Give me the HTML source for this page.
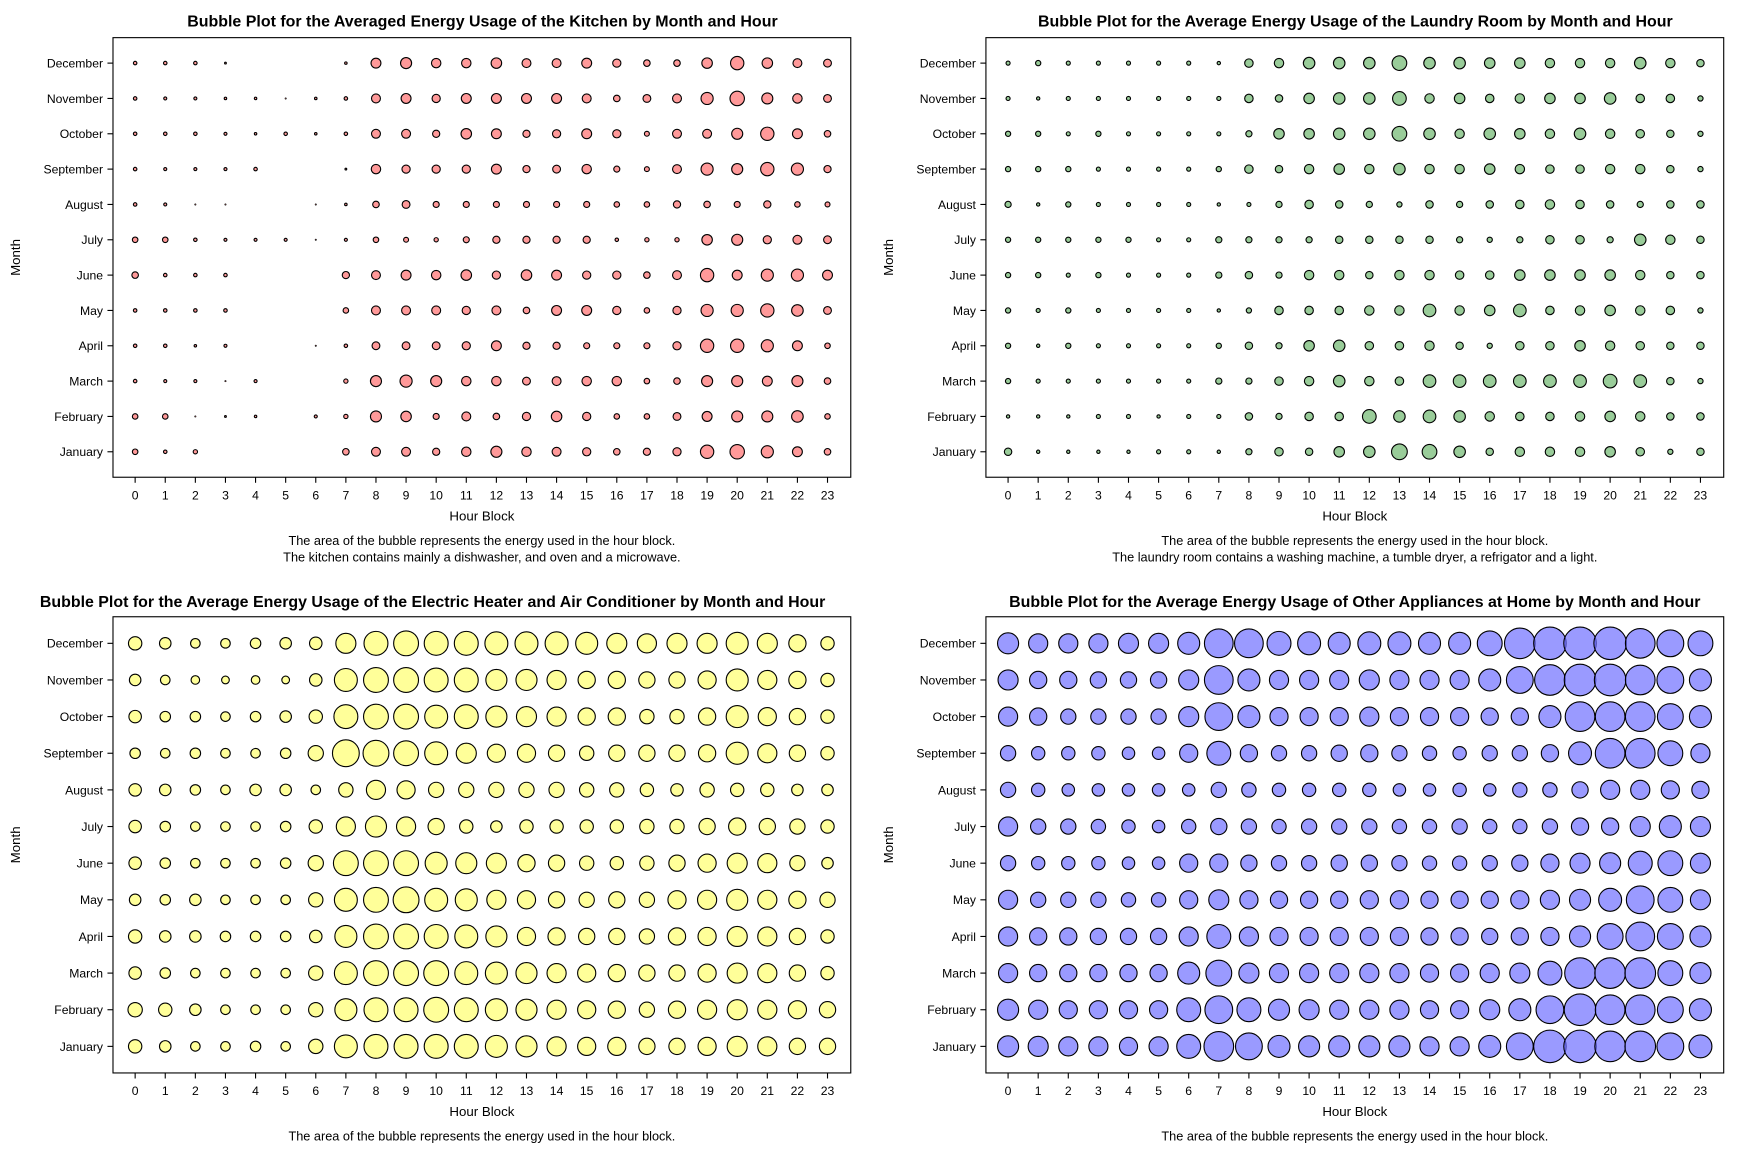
<!DOCTYPE html>
<html><head><meta charset="utf-8"><style>
html,body{margin:0;padding:0;background:#fff;}
svg{display:block;}
text{font-family:"Liberation Sans",Arial,sans-serif;fill:#000;}
</style></head><body>
<svg id="chart" width="1737" height="1156" viewBox="0 0 1568 1044" preserveAspectRatio="none" xmlns="http://www.w3.org/2000/svg"></svg>
<script>
const months = ["December","November","October","September","August","July","June","May","April","March","February","January"];
const hours = [0,1,2,3,4,5,6,7,8,9,10,11,12,13,14,15,16,17,18,19,20,21,22,23];
const kitchenValues = [
[4,4,4,1,0,0,0,2,32,40,29,29,36,26,26,32,22,14,14,36,58,36,26,20],
[4,3,3,2,2,0.4,2,4,26,32,22,32,32,32,32,26,14,20,26,48,68,40,29,20],
[4,4,4,3,2,4,2,4,26,26,17,36,32,17,22,32,22,8,26,26,40,58,32,14],
[4,3,3,3,4,0,0,1,29,22,22,22,32,17,20,29,12,8,26,48,40,58,48,17],
[4,3,0.4,0.4,0,0,0.4,2,14,20,12,12,12,12,12,12,10,10,17,14,12,17,10,8],
[10,10,4,3,3,3,0.2,3,10,8,6,12,17,17,17,17,4,6,6,36,40,22,26,20],
[14,4,4,4,0,0,0,17,26,32,29,36,22,36,32,22,22,14,26,58,32,48,48,32],
[4,4,4,4,0,0,0,10,26,26,26,22,26,14,32,32,22,10,22,48,48,58,44,20],
[4,4,2,3,0,0,0.4,4,20,20,20,22,32,17,17,12,12,12,22,58,58,48,32,10],
[4,3,3,0.4,3,0,0,6,40,48,40,29,29,20,26,29,29,10,14,40,40,32,40,14],
[10,10,0.4,1,2,0,3,6,40,36,12,26,14,22,36,22,10,10,20,32,40,40,44,10],
[10,4,6,0,0,0,0,14,26,26,17,29,40,29,26,22,14,17,22,58,68,48,32,14]];
const laundryValues = [
[6,10,6,6,6,6,6,4,26,32,48,48,48,78,48,48,40,40,32,32,32,48,32,20],
[6,4,6,6,6,6,6,6,26,20,40,48,48,68,32,40,26,32,40,40,48,26,26,10],
[10,10,6,10,6,6,6,6,14,40,40,48,48,78,48,32,48,40,32,48,32,26,20,10],
[10,10,10,6,6,6,6,10,26,20,32,40,32,48,32,32,40,32,26,26,32,32,20,10],
[14,4,10,6,6,6,6,4,6,14,26,20,14,10,20,14,20,26,32,26,20,14,20,20],
[10,10,10,10,10,6,6,14,14,14,14,20,20,20,20,14,10,14,26,26,14,48,32,20],
[10,10,6,10,6,6,6,14,20,14,32,32,20,32,32,26,26,40,40,40,40,32,20,20],
[10,6,10,6,6,6,6,4,10,26,26,26,32,32,58,32,40,58,26,32,40,32,26,10],
[10,4,10,6,6,6,6,10,20,14,40,48,26,26,32,20,10,26,26,40,32,26,20,20],
[10,6,6,6,6,6,6,14,14,26,32,48,32,26,58,58,58,58,58,58,68,58,20,10],
[4,4,4,6,6,4,6,6,20,14,26,26,68,48,58,48,32,26,26,32,40,32,20,20],
[20,4,4,4,4,6,6,4,14,26,20,40,48,90,78,48,20,32,32,32,40,26,10,20]];
const heaterValues = [
[78,58,40,40,48,58,68,176,250,270,250,250,230,230,230,212,176,160,176,176,212,176,130,78],
[58,40,32,26,32,26,68,230,270,270,250,250,194,194,160,130,130,116,116,144,212,160,130,78],
[68,48,48,40,48,58,78,250,270,270,230,250,194,176,160,130,130,90,90,130,212,144,116,78],
[48,40,48,40,40,48,102,314,292,270,230,176,144,144,116,90,116,116,116,130,212,160,116,78],
[68,58,48,40,58,58,40,90,160,144,102,102,102,102,102,90,90,78,68,90,78,78,58,58],
[68,48,40,40,40,48,78,160,194,160,116,78,58,78,78,78,78,90,90,116,130,116,102,78],
[68,48,40,40,40,48,102,270,270,270,212,194,176,130,116,90,78,90,116,144,176,160,102,58],
[58,48,58,40,40,40,90,230,270,292,230,212,160,144,116,102,116,102,144,160,194,160,130,102],
[78,58,58,48,48,48,68,212,270,270,250,230,194,144,130,116,116,102,130,144,176,160,116,78],
[68,48,40,40,40,40,90,230,270,270,270,230,212,194,160,144,130,116,116,144,176,160,116,78],
[90,78,58,40,40,40,90,212,250,250,270,250,212,194,160,144,130,102,130,160,176,160,144,116],
[78,58,40,40,48,40,90,230,250,250,250,250,212,194,160,144,144,116,116,144,176,160,116,116]];
const otherValues = [
[194,160,160,160,176,176,212,360,360,250,230,212,230,230,212,212,270,410,462,462,462,384,314,270],
[176,130,130,116,116,116,176,360,212,160,160,160,176,160,160,160,212,314,410,436,436,384,314,212],
[160,130,102,102,102,102,176,336,212,144,144,144,160,144,144,144,130,130,212,384,384,384,292,212],
[102,78,78,78,68,68,144,250,130,102,102,116,130,102,90,78,102,102,130,230,384,384,270,160],
[102,78,68,68,68,68,68,102,90,78,78,78,78,68,68,78,68,90,90,116,160,160,144,130],
[160,102,102,90,78,68,90,116,102,90,102,102,102,90,90,102,90,90,102,130,130,176,212,176],
[102,78,78,78,68,68,144,144,116,102,102,116,116,102,90,90,102,116,144,176,194,250,270,176],
[160,102,102,102,90,90,144,176,144,130,130,130,144,144,130,130,130,144,160,194,230,336,270,176],
[160,130,130,116,116,116,160,250,160,144,144,144,144,144,130,130,116,130,144,194,292,360,292,194],
[160,130,130,130,130,130,212,292,176,160,160,160,160,160,144,144,160,176,250,410,410,410,270,194],
[194,160,144,144,144,144,250,336,250,194,176,160,160,160,144,144,176,212,336,436,384,384,292,212],
[194,176,160,160,144,160,250,384,314,212,194,194,194,194,160,160,212,314,462,462,410,410,314,230]];

const NS = "http://www.w3.org/2000/svg";
const svg = document.getElementById('chart');
function mk(tag, attrs, parent){ const e=document.createElementNS(NS,tag); for(const k in attrs) e.setAttribute(k,attrs[k]); (parent||svg).appendChild(e); return e; }
function txt(s, attrs, parent){ const e=mk('text',attrs,parent); e.textContent=s; return e; }

const panels = [
 {key:'kitchen', values:kitchenValues, fill:'#ff9999', op:1, k:0.79,
  x0:102,x1:768,y0:34,y1:431, c0:122,c23:747, rTop:57,rBot:408, title:"Bubble Plot for the Averaged Energy Usage of the Kitchen by Month and Hour", tL:169,tR:702, ty:24,
  caps:["The area of the bubble represents the energy used in the hour block.","The kitchen contains mainly a dishwasher, and oven and a microwave."]},
 {key:'laundry', values:laundryValues, fill:'#99cc99', op:1, k:0.75,
  x0:890,x1:1556,y0:34,y1:431, c0:910,c23:1535, rTop:57,rBot:408, title:"Bubble Plot for the Average Energy Usage of the Laundry Room by Month and Hour", tL:937,tR:1510, ty:24,
  caps:["The area of the bubble represents the energy used in the hour block.","The laundry room contains a washing machine, a tumble dryer, a refrigator and a light."]},
 {key:'heater', values:heaterValues, fill:'#ffff99', op:1, k:0.683,
  x0:102,x1:768,y0:557,y1:969, c0:122,c23:747, rTop:581,rBot:945, title:"Bubble Plot for the Average Energy Usage of the Electric Heater and Air Conditioner by Month and Hour", tL:36,tR:745, ty:548,
  caps:["The area of the bubble represents the energy used in the hour block."]},
 {key:'other', values:otherValues, fill:'#6a6aff', op:0.68, k:0.683,
  x0:890,x1:1556,y0:557,y1:969, c0:910,c23:1535, rTop:581,rBot:945, title:"Bubble Plot for the Average Energy Usage of Other Appliances at Home by Month and Hour", tL:911,tR:1535, ty:548,
  caps:["The area of the bubble represents the energy used in the hour block."]}
];

panels.forEach(p=>{
  const g = mk('g',{});
  
  
  const xs = h => p.c0 + (p.c23-p.c0)*h/23;
  const ys = i => p.rTop + (p.rBot-p.rTop)*i/(months.length-1);
  const cx = (p.x0+p.x1)/2;
  const t = txt(p.title,{x:p.tL,y:p.ty,'font-size':14,'font-weight':'bold',textLength:p.tR-p.tL,lengthAdjust:'spacingAndGlyphs'},g);
  
  
  const box = mk('rect',{x:p.x0,y:p.y0,width:p.x1-p.x0,height:p.y1-p.y0,fill:'none',stroke:'#000','stroke-width':1},g);
  
  
  months.forEach((m,i)=>{
    const y = ys(i);
    mk('line',{x1:p.x0-5,x2:p.x0,y1:y,y2:y,stroke:'#000','stroke-width':1},g);
    const l = txt(m,{x:p.x0-9,y:y+4,'font-size':11,'text-anchor':'end'},g);
    
    
  });
  hours.forEach(h=>{
    const x = xs(h);
    mk('line',{x1:x,x2:x,y1:p.y1,y2:p.y1+5,stroke:'#000','stroke-width':1},g);
    const l = txt(String(h),{x:x,y:p.y1+20,'font-size':11,'text-anchor':'middle'},g);
    
    
  });
  const xt = txt("Hour Block",{x:cx,y:p.y1+39,'font-size':12,'text-anchor':'middle'},g);
  
  
  const ym = (p.y0+p.y1)/2;
  const yt = txt("Month",{x:p.x0-84,y:ym,'font-size':12,'text-anchor':'middle',transform:`rotate(-90 ${p.x0-84} ${ym})`},g);
  
  
  p.caps.forEach((c,j)=>{
    const ce = txt(c,{x:cx,y:p.y1+61+15*j,'font-size':11.5,'text-anchor':'middle'},g);
    
    
  });
  p.values.forEach((row,i)=>{
    row.forEach((v,h)=>{
      if(!(v>0)) return;
      const c = mk('circle',{cx:xs(hours[h]),cy:ys(i),r:Math.max(0.6,p.k*Math.sqrt(v)),fill:p.fill,'fill-opacity':p.op,stroke:'#000','stroke-width':v<1?0.6:1},g);
      
      
    });
  });
});
</script>
</body></html>
